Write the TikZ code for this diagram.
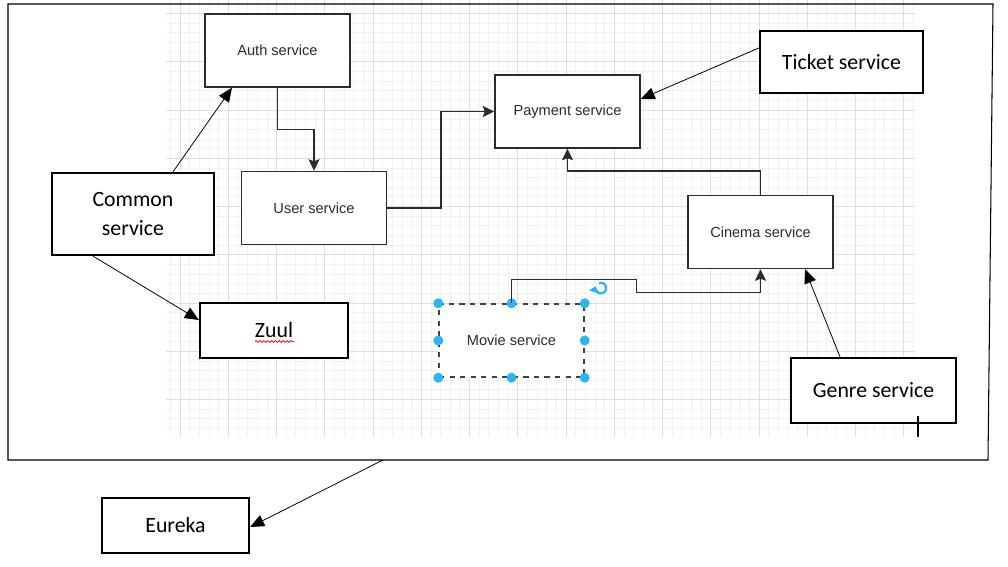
\documentclass[tikz,border=0pt]{standalone}
\usepackage{fontspec}
\usepackage{tikz}
\usetikzlibrary{arrows.meta,decorations.pathmorphing}
\newfontfamily\wordfont{Carlito}
\newfontfamily\drawfont{Liberation Sans}
\definecolor{gridminor}{HTML}{F2F2F2}
\definecolor{gridmajor}{HTML}{DEDEDE}
\definecolor{boxgray}{HTML}{2B2B2B}
\definecolor{handleblue}{HTML}{29B6F2}
\definecolor{spellred}{HTML}{E02020}
\tikzset{
  servicebox/.style={
    draw=boxgray,
    line width=0.85pt,
    fill=white,
    text=boxgray,
    minimum width=29mm,
    minimum height=14.6mm,
    inner sep=0pt,
    font=\drawfont\fontsize{8.3}{10}\selectfont
  },
  wordbox/.style={
    draw=black,
    line width=1.3pt,
    fill=white,
    align=center,
    inner sep=0pt,
    font=\wordfont\fontsize{12.4}{16.5}\selectfont
  },
  flowarrow/.style={-{Stealth[length=2.3mm, width=2.2mm, inset=0.4mm]}, line width=0.85pt, draw=boxgray},
  notearrow/.style={-{Triangle[length=2.8mm, width=2.4mm]}, line width=0.45pt, draw=black},
  handle/.style={fill=handleblue},
  framebox/.style={draw=black, line width=0.6pt}
}

\begin{document}
\begin{tikzpicture}[x=0.02cm, y=-0.02cm]
\useasboundingbox (0,0) rectangle (1008,567);
\fill[white] (0,0) rectangle (1008,567);

\foreach \k in {0,...,77}
  \draw[gridminor, line width=0.4pt] ({170.35+9.65*\k},0) -- ({170.35+9.65*\k},437);
\foreach \k in {0,...,44}
  \draw[gridminor, line width=0.4pt] (166,{3.85+9.65*\k}) -- (915,{3.85+9.65*\k});
\foreach \k in {0,...,15}
  \draw[gridmajor, line width=0.5pt] ({180+48.25*\k},0) -- ({180+48.25*\k},437);
\foreach \k in {0,...,8}
  \draw[gridmajor, line width=0.5pt] (166,{13.5+48.25*\k}) -- (915,{13.5+48.25*\k});

\coordinate (frameNW) at (8,4);
\coordinate (frameNE) at (993,4);
\coordinate (frameSE) at (988,460);
\coordinate (frameSW) at (8,460);
\coordinate (framefoot) at (383,460);
\draw[framebox] (frameNW) -- (frameNE) -- (frameSE) -- (frameSW) -- cycle;

\node[servicebox] (auth) at (277.5,50.5) {Auth service};
\node[servicebox] (payment) at (567.5,111.5) {Payment service};
\node[servicebox] (user) at (314,208) {User service};
\node[servicebox] (cinema) at (760.5,232) {Cinema service};
\node[servicebox, draw=black!75, dashed] (movie) at (511.5,340.5) {Movie service};

\node[wordbox, minimum width=32.6mm, minimum height=12.4mm] (ticket) at (841.5,62) {Ticket service};
\node[wordbox, minimum width=32.4mm, minimum height=16.4mm] (common) at (133,214) {Common\\service};
\node[wordbox, minimum width=29.6mm, minimum height=11mm] (zuul) at (274,330.5) {Zuul};
\node[wordbox, minimum width=33mm, minimum height=13mm] (genre) at (873.5,390.5) {Genre service};
\node[wordbox, minimum width=29.4mm, minimum height=11mm] (eureka) at (175.5,525.5) {Eureka};

\draw[spellred, line width=0.5pt, decorate, decoration={snake, amplitude=0.5pt, segment length=2.2pt}]
  ([xshift=-3.8mm, yshift=-2.2mm]zuul.center) -- ++(39,0);

\foreach \a in {north west, north, north east, west, east, south west, south, south east}
  \fill[handle] (movie.\a) circle (0.1cm);
\draw[handleblue, line width=1.3pt, -{Triangle[length=1.2mm, width=1.8mm]}]
  (599,283) arc[start angle=110, end angle=-200, radius=0.11cm];

\draw[flowarrow] (auth.south) -- ++(0,42) -| (user.north);
\draw[flowarrow] (user.east) -- ++(54,0) |- (payment.west);
\draw[flowarrow] (cinema.north) -- ++(0,-24) -| (payment.south);
\draw[flowarrow] (movie.north) -- ++(0,-24) -| ++(125,13) -| (cinema.south);

\draw[notearrow] ([xshift=8mm]common.north) -- ([xshift=-9.1mm]auth.south);
\draw[notearrow] ([xshift=-8mm]common.south) -- ([yshift=2.1mm]zuul.west);
\draw[notearrow] ([yshift=2.8mm]ticket.west) -- ([yshift=2.5mm]payment.east);
\draw[notearrow] ([xshift=-6.7mm]genre.north) -- ([xshift=8.9mm]cinema.south);
\draw[notearrow] (framefoot) -- ([yshift=-0.3mm]eureka.east);

\draw[line width=0.6pt] (918,416) -- (918,437);
\draw[line width=0.6pt] (915,423) -- (921,423);
\end{tikzpicture}
\end{document}
